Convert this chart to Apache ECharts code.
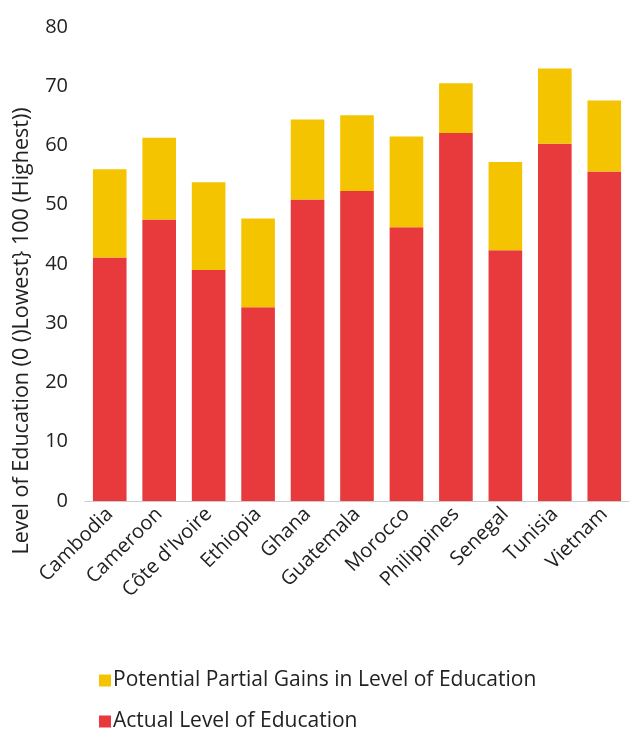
<!DOCTYPE html>
<html>
<head>
<meta charset="utf-8">
<script src="https://cdn.jsdelivr.net/npm/echarts@6/dist/echarts.min.js"></script>
<style>
  html, body { margin: 0; padding: 0; background: #fff; }
  #chart { width: 630px; height: 729px; }
</style>
</head>
<body>
<div id="chart"></div>
<script>
// Countries on the category axis
const countries = ['Cambodia', 'Cameroon', "Côte d'Ivoire", 'Ethiopia', 'Ghana', 'Guatemala',
  'Morocco', 'Philippines', 'Senegal', 'Tunisia', 'Vietnam'];

// Actual level of education (lower segment)
const actualLevel = [41.1, 47.5, 39.0, 32.7, 50.9, 52.3, 46.2, 62.1, 42.3, 60.3, 55.6];

// Potential partial gains stacked on top (total minus actual)
const potentialGains = [14.9, 13.8, 14.8, 15.0, 13.5, 12.8, 15.3, 8.4, 14.9, 12.7, 12.0];

// Value axis tick settings
const yMin = 0, yMax = 80, yStep = 10;

const seriesNames = {
  actual: 'Actual Level of Education',
  gains: 'Potential Partial Gains in Level of Education'
};

const FONT = '"Open Sans", "Noto Sans", sans-serif';
const chart = echarts.init(document.getElementById('chart'), null, { renderer: 'canvas' });

// One legend block per row, stacked vertically below the plot
const legendBase = {
  orient: 'horizontal',
  left: 94,
  itemWidth: 12,
  itemHeight: 12,
  icon: 'rect',
  textStyle: { fontFamily: FONT, fontSize: 21, color: '#222', padding: [0, 0, 0, -3] }
};

chart.setOption({
  animation: false,
  textStyle: { fontFamily: FONT },
  grid: { left: 85, right: 1, top: 27, bottom: 228, containLabel: false },
  legend: [
    Object.assign({}, legendBase, { top: 665, data: [seriesNames.gains] }),
    Object.assign({}, legendBase, { top: 706, data: [seriesNames.actual] })
  ],
  xAxis: {
    type: 'category',
    data: countries,
    axisLine: { lineStyle: { color: '#ccc', width: 1 } },
    axisTick: { show: false },
    axisLabel: {
      rotate: 45,
      interval: 0,
      margin: 10,
      fontSize: 20,
      color: '#222',
      fontFamily: FONT
    }
  },
  yAxis: {
    type: 'value',
    min: yMin,
    max: yMax,
    interval: yStep,
    axisLine: { show: false },
    axisTick: { show: false },
    splitLine: { show: false },
    axisLabel: { fontSize: 20, color: '#222', margin: 17, fontFamily: FONT }
  },
  graphic: [{
    type: 'text',
    x: 22,
    y: 331,
    rotation: Math.PI / 2,
    style: {
      text: 'Level of Education (0 ()Lowest} 100 (Highest))',
      font: '21.5px ' + FONT,
      fill: '#222',
      align: 'center',
      verticalAlign: 'middle'
    }
  }],
  series: [
    {
      name: seriesNames.actual,
      type: 'bar',
      stack: 'edu',
      barWidth: '68%',
      itemStyle: { color: '#E8393C' },
      data: actualLevel
    },
    {
      name: seriesNames.gains,
      type: 'bar',
      stack: 'edu',
      barWidth: '68%',
      itemStyle: { color: '#F5C400' },
      data: potentialGains
    }
  ]
});
</script>
</body>
</html>
